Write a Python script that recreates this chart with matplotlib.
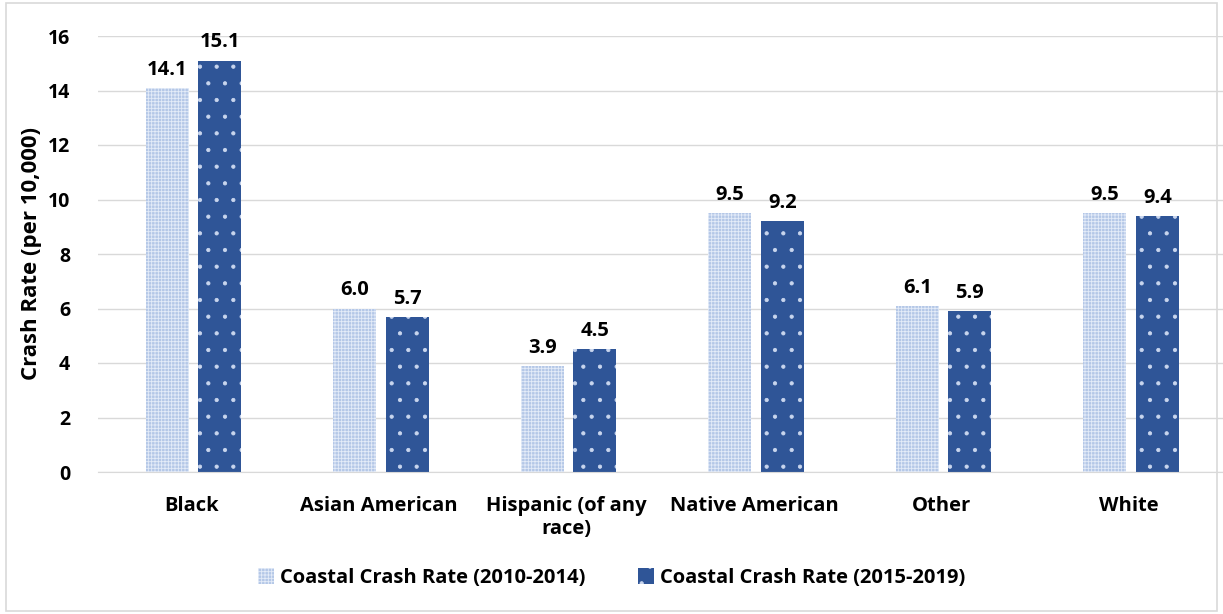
import matplotlib.pyplot as plt
import numpy as np
from matplotlib.patches import Rectangle

plt.rcParams["font.family"] = ["Open Sans", "DejaVu Sans"]
plt.rcParams["font.weight"] = "bold"
plt.rcParams["hatch.linewidth"] = 0.6

groups = ["Black", "Asian American", "Hispanic (of any\nrace)", "Native American", "Other", "White"]
rate_2010_2014 = [14.1, 6.0, 3.9, 9.5, 6.1, 9.5]
rate_2015_2019 = [15.1, 5.7, 4.5, 9.2, 5.9, 9.4]
series_labels = ["Coastal Crash Rate (2010-2014)", "Coastal Crash Rate (2015-2019)"]

LIGHT = "#B4C7E7"
DARK = "#2F5597"

fig = plt.figure(figsize=(12.23, 6.14), dpi=100)
ax = fig.add_axes([98 / 1223, 142 / 614, 1125 / 1223, 436 / 614])

x = np.arange(len(groups))
width = 0.23
gap = 0.05

bars_a = ax.bar(x - (width + gap) / 2 + 0.01, rate_2010_2014, width, color=LIGHT,
                edgecolor="#E4ECF8", linewidth=0, hatch="+++++", label=series_labels[0])
bars_b = ax.bar(x + (width + gap) / 2 + 0.01, rate_2015_2019, width, color=DARK,
                edgecolor="#C9D6EE", linewidth=0, hatch=".", label=series_labels[1])

for bars, vals in ((bars_a, rate_2010_2014), (bars_b, rate_2015_2019)):
    for bar, v in zip(bars, vals):
        ax.text(bar.get_x() + bar.get_width() / 2, v + 0.3, f"{v:.1f}",
                ha="center", va="bottom", fontsize=14.5, fontweight="bold")

ax.set_ylim(0, 16)
ax.set_xlim(-0.5, len(groups) - 0.5)
ax.set_yticks(range(0, 17, 2))
ax.set_xticks(x)
ax.set_xticklabels(groups, fontsize=14.5, fontweight="bold")
ax.tick_params(axis="y", labelsize=14, length=0, pad=20)
ax.tick_params(axis="x", length=0, pad=17)
ax.grid(axis="y", color="#D9D9D9", linewidth=1)
ax.set_axisbelow(True)
for side in ("top", "right", "left"):
    ax.spines[side].set_visible(False)
ax.spines["bottom"].set_color("#D9D9D9")

ax.set_ylabel("Crash Rate (per 10,000)", fontsize=16, fontweight="bold", labelpad=4)

fig.legend(handles=[bars_a, bars_b], labels=series_labels, loc="center",
           bbox_to_anchor=(0.5, 36 / 614), ncol=2, frameon=False, fontsize=14.5,
           handlelength=0.8, handleheight=0.8, handletextpad=0.3, columnspacing=2.6)

fig.patches.append(Rectangle((0.005, 0.005), 0.99, 0.99, transform=fig.transFigure,
                             fill=False, edgecolor="#D9D9D9", linewidth=1.2))

fig.savefig("out.png", dpi=100)
